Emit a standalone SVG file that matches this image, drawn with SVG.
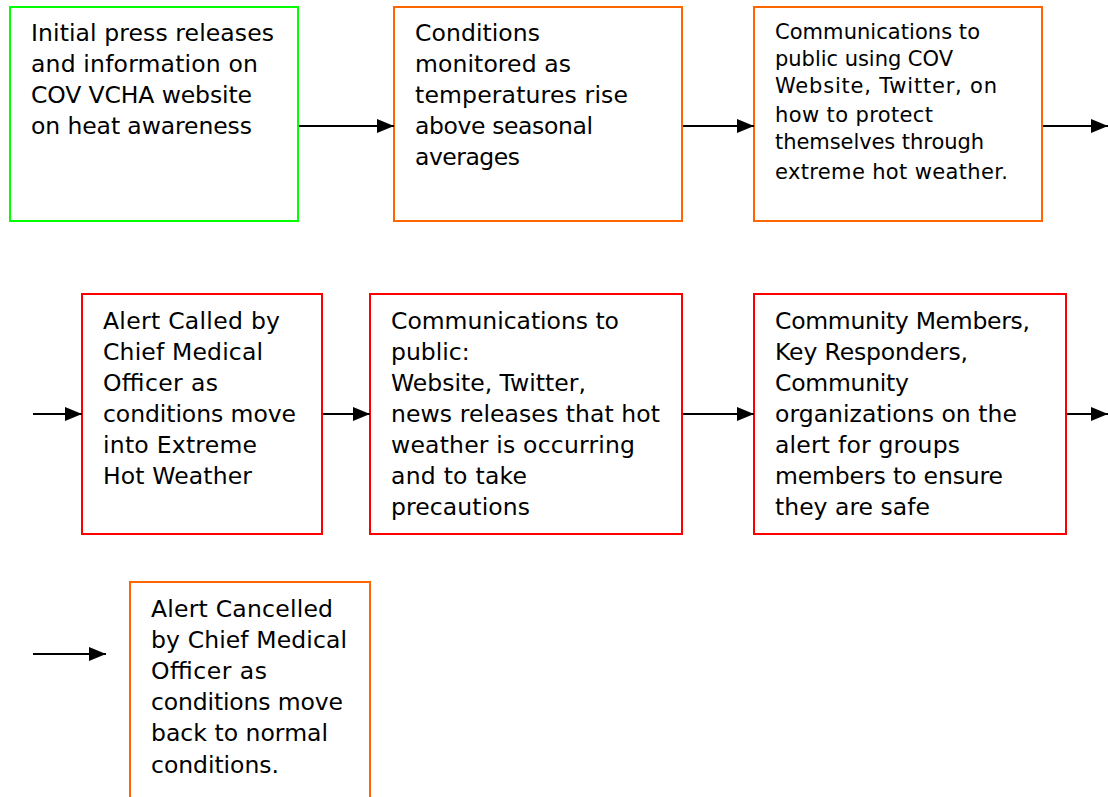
<svg xmlns="http://www.w3.org/2000/svg" width="1108" height="797" viewBox="0 0 1108 797">
<defs>
<marker id="ah" markerWidth="17" markerHeight="14" refX="17" refY="7" orient="auto" markerUnits="userSpaceOnUse">
<path d="M0,0 L17,7 L0,14 Z" fill="#000"/>
</marker>
<style>
.box{fill:#fff;stroke-width:2}
.g{stroke:#00ff00}
.o{stroke:#ff6600}
.r{stroke:#ff0000}
text{font-family:"DejaVu Sans","Liberation Sans",sans-serif;fill:#000;font-size:23.5px}
.sm{font-size:21px}
.c{stroke:#000;stroke-width:2;fill:none;marker-end:url(#ah)}
</style>
</defs>
<rect width="1108" height="797" fill="#fff"/>
<g id="n1">
<rect class="box g" x="10" y="7" width="288" height="214"/>
<text><tspan x="31" y="41" textLength="243">Initial press releases</tspan><tspan x="31" y="72" textLength="227">and information on</tspan><tspan x="31" y="103" textLength="221">COV VCHA website</tspan><tspan x="31" y="134" textLength="221">on heat awareness</tspan></text>
</g>
<g id="n2">
<rect class="box o" x="394" y="7" width="288" height="214"/>
<text><tspan x="415" y="41" textLength="125">Conditions</tspan><tspan x="415" y="72" textLength="156">monitored as</tspan><tspan x="415" y="103" textLength="213">temperatures rise</tspan><tspan x="415" y="134" textLength="178">above seasonal</tspan><tspan x="415" y="165" textLength="105">averages</tspan></text>
</g>
<g id="n3">
<rect class="box o" x="754" y="7" width="288" height="214"/>
<text class="sm"><tspan x="775" y="39" textLength="205">Communications to</tspan><tspan x="775" y="66" textLength="178">public using COV</tspan><tspan x="775" y="93" textLength="222">Website, Twitter, on</tspan><tspan x="775" y="122" textLength="158">how to protect</tspan><tspan x="775" y="149" textLength="209">themselves through</tspan><tspan x="775" y="179" textLength="233">extreme hot weather.</tspan></text>
</g>
<g id="n4">
<rect class="box r" x="82" y="294" width="240" height="240"/>
<text><tspan x="103" y="329" textLength="177">Alert Called by</tspan><tspan x="103" y="360" textLength="160">Chief Medical</tspan><tspan x="103" y="391" textLength="115">Officer as</tspan><tspan x="103" y="422" textLength="193">conditions move</tspan><tspan x="103" y="453" textLength="154">into Extreme</tspan><tspan x="103" y="484" textLength="149">Hot Weather</tspan></text>
</g>
<g id="n5">
<rect class="box r" x="370" y="294" width="312" height="240"/>
<text><tspan x="391" y="329" textLength="228">Communications to</tspan><tspan x="391" y="360">public:</tspan><tspan x="391" y="391">Website, Twitter,</tspan><tspan x="391" y="422" textLength="269">news releases that hot</tspan><tspan x="391" y="453" textLength="244">weather is occurring</tspan><tspan x="391" y="484" textLength="136">and to take</tspan><tspan x="391" y="515" textLength="139">precautions</tspan></text>
</g>
<g id="n6">
<rect class="box r" x="754" y="294" width="312" height="240"/>
<text><tspan x="775" y="329" textLength="255">Community Members,</tspan><tspan x="775" y="360" textLength="193">Key Responders,</tspan><tspan x="775" y="391" textLength="134">Community</tspan><tspan x="775" y="422" textLength="242">organizations on the</tspan><tspan x="775" y="453" textLength="185">alert for groups</tspan><tspan x="775" y="484" textLength="228">members to ensure</tspan><tspan x="775" y="515" textLength="155">they are safe</tspan></text>
</g>
<g id="n7">
<rect class="box o" x="130" y="582" width="240" height="230"/>
<text><tspan x="151" y="617" textLength="182">Alert Cancelled</tspan><tspan x="151" y="648" textLength="196">by Chief Medical</tspan><tspan x="151" y="679" textLength="116">Officer as</tspan><tspan x="151" y="710" textLength="192">conditions move</tspan><tspan x="151" y="741" textLength="177">back to normal</tspan><tspan x="151" y="773" textLength="128">conditions.</tspan></text>
</g>
<g id="connectors">
<line class="c" x1="299" y1="126" x2="394" y2="126"/>
<line class="c" x1="683" y1="126" x2="754" y2="126"/>
<line class="c" x1="1043" y1="126" x2="1108" y2="126"/>
<line class="c" x1="33" y1="414" x2="82" y2="414"/>
<line class="c" x1="323" y1="414" x2="370" y2="414"/>
<line class="c" x1="683" y1="414" x2="754" y2="414"/>
<line class="c" x1="1067" y1="414" x2="1108" y2="414"/>
<line class="c" x1="33" y1="654" x2="106" y2="654"/>
</g>
</svg>
